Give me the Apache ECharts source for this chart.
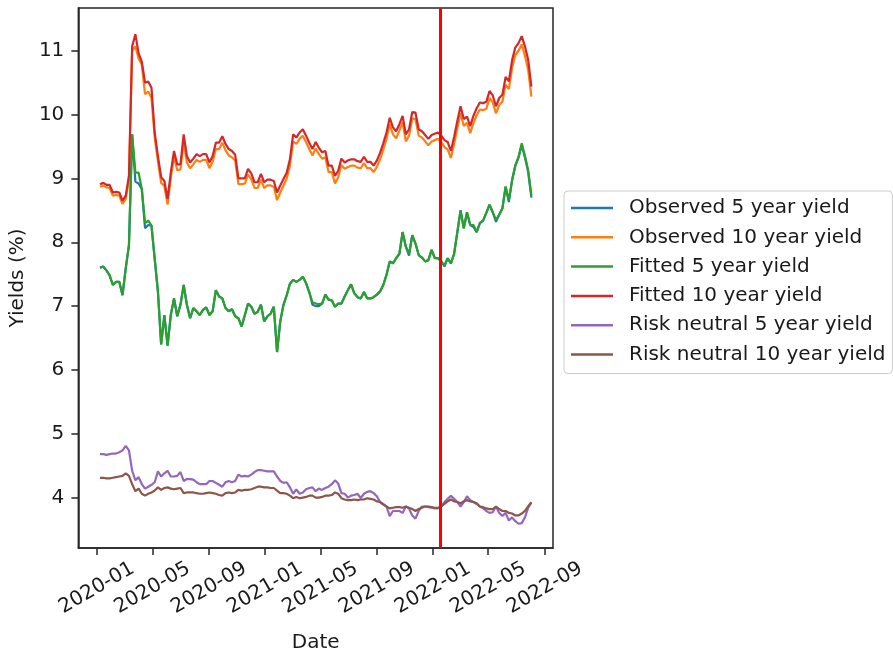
<!DOCTYPE html>
<html>
<head>
<meta charset="utf-8">
<title>Yields</title>
<script src="https://cdn.jsdelivr.net/npm/echarts@6.0.0/dist/echarts.min.js"></script>
<style>
  html, body { margin: 0; padding: 0; background: #fff; }
  #main { width: 893px; height: 658px; }
</style>
</head>
<body>
<div id="main"></div>
<script>
// weekly observations, first one on 2020-01-08
var startDate = [2020, 0, 8];
var weekCount = 135;

var seriesNames = ['Observed 5 year yield', 'Observed 10 year yield', 'Fitted 5 year yield',
  'Fitted 10 year yield', 'Risk neutral 5 year yield', 'Risk neutral 10 year yield'];

var observed5 = [
  7.60, 7.62, 7.56, 7.48, 7.33, 7.38, 7.38, 7.17, 7.59, 7.95,
  9.69, 8.95, 8.92, 8.83, 8.22, 8.27, 8.26, 7.74, 7.23, 6.40,
  6.86, 6.38, 6.86, 7.12, 6.84, 7.02, 7.33, 7.02, 6.81, 6.97,
  6.92, 6.86, 6.94, 6.98, 6.86, 6.92, 7.25, 7.15, 7.12,
  6.97, 6.92, 6.95, 6.84, 6.81, 6.68, 6.86, 7.04, 6.99, 6.88,
  6.91, 7.02, 6.76, 6.84, 6.88, 6.99, 6.28, 6.76, 7.02, 7.17,
  7.35, 7.41, 7.38, 7.41, 7.46, 7.36, 7.22, 7.02, 7.00, 7.00,
  7.04, 7.18, 7.10, 7.09, 6.99, 7.04, 7.04, 7.15, 7.25, 7.34,
  7.20, 7.14, 7.12, 7.22, 7.12, 7.12, 7.14, 7.18, 7.23, 7.33,
  7.49, 7.70, 7.67, 7.75, 7.82, 8.16, 7.93, 7.79, 8.11, 7.98,
  7.80, 7.76, 7.70, 7.72, 7.88, 7.75, 7.75, 7.70, 7.62, 7.75,
  7.67, 7.82, 8.16, 8.50, 8.22, 8.47, 8.27, 8.24, 8.16, 8.30,
  8.34, 8.46, 8.59, 8.47, 8.32, 8.43, 8.53, 8.87, 8.63, 8.97,
  9.20, 9.33, 9.52, 9.33, 9.10, 8.70
];

var observed10 = [
  8.87, 8.89, 8.86, 8.85, 8.73, 8.74, 8.73, 8.60, 8.68, 8.98,
  11.00, 11.07, 10.88, 10.78, 10.32, 10.36, 10.26, 9.64, 9.27, 8.93,
  8.88, 8.59, 9.01, 9.34, 9.13, 9.14, 9.57, 9.25, 9.16, 9.22,
  9.29, 9.26, 9.29, 9.29, 9.16, 9.26, 9.46, 9.46, 9.56,
  9.44, 9.36, 9.33, 9.28, 8.91, 8.91, 8.92, 9.06, 8.99, 8.85,
  8.85, 8.98, 8.85, 8.89, 8.89, 8.87, 8.66, 8.78, 8.89, 9.00,
  9.20, 9.58, 9.54, 9.62, 9.67, 9.57, 9.46, 9.36, 9.47, 9.38,
  9.31, 9.33, 9.10, 9.10, 8.92, 9.02, 9.21, 9.15, 9.18, 9.20,
  9.20, 9.17, 9.16, 9.24, 9.16, 9.16, 9.10, 9.18, 9.30, 9.45,
  9.62, 9.85, 9.69, 9.63, 9.75, 9.88, 9.58, 9.67, 9.94, 9.93,
  9.67, 9.64, 9.58, 9.52, 9.58, 9.60, 9.62, 9.57, 9.49, 9.45,
  9.32, 9.54, 9.79, 10.02, 9.82, 9.87, 9.71, 9.87, 9.99, 10.08,
  10.07, 10.09, 10.26, 10.19, 10.02, 10.15, 10.20, 10.47, 10.40, 10.73,
  10.93, 11.00, 11.10, 10.92, 10.70, 10.28
];

var fitted5 = [
  7.60, 7.62, 7.56, 7.48, 7.33, 7.38, 7.38, 7.17, 7.59, 7.95,
  9.69, 9.09, 9.09, 8.83, 8.30, 8.34, 8.26, 7.74, 7.23, 6.40,
  6.86, 6.38, 6.86, 7.12, 6.84, 7.02, 7.33, 7.02, 6.81, 6.97,
  6.92, 6.86, 6.94, 6.98, 6.86, 6.92, 7.25, 7.15, 7.12,
  6.97, 6.92, 6.95, 6.84, 6.81, 6.68, 6.86, 7.04, 6.99, 6.88,
  6.91, 7.02, 6.76, 6.84, 6.88, 6.99, 6.28, 6.76, 7.02, 7.17,
  7.35, 7.41, 7.38, 7.41, 7.46, 7.36, 7.22, 7.06, 7.04, 7.03,
  7.04, 7.18, 7.10, 7.09, 6.99, 7.04, 7.04, 7.15, 7.25, 7.34,
  7.20, 7.14, 7.12, 7.22, 7.12, 7.12, 7.14, 7.18, 7.23, 7.33,
  7.49, 7.70, 7.67, 7.75, 7.82, 8.16, 7.93, 7.82, 8.11, 7.98,
  7.80, 7.76, 7.70, 7.72, 7.88, 7.75, 7.75, 7.70, 7.64, 7.75,
  7.67, 7.82, 8.16, 8.50, 8.22, 8.47, 8.27, 8.27, 8.16, 8.30,
  8.34, 8.46, 8.59, 8.47, 8.35, 8.43, 8.53, 8.87, 8.66, 8.97,
  9.20, 9.33, 9.55, 9.35, 9.13, 8.74
];

var fitted10 = [
  8.91, 8.93, 8.90, 8.90, 8.78, 8.79, 8.78, 8.65, 8.73, 9.04,
  11.07, 11.26, 10.96, 10.83, 10.50, 10.52, 10.42, 9.72, 9.35, 9.02,
  8.96, 8.68, 9.09, 9.43, 9.22, 9.22, 9.69, 9.35, 9.25, 9.31,
  9.38, 9.35, 9.38, 9.38, 9.25, 9.35, 9.56, 9.56, 9.66,
  9.54, 9.46, 9.43, 9.37, 9.00, 9.00, 9.00, 9.15, 9.08, 8.94,
  8.94, 9.07, 8.94, 8.98, 8.98, 8.96, 8.78, 8.89, 8.99, 9.09,
  9.30, 9.69, 9.64, 9.72, 9.77, 9.67, 9.56, 9.46, 9.57, 9.48,
  9.41, 9.43, 9.20, 9.20, 9.04, 9.12, 9.31, 9.25, 9.28, 9.30,
  9.30, 9.27, 9.26, 9.34, 9.26, 9.26, 9.20, 9.28, 9.40, 9.55,
  9.72, 9.95, 9.80, 9.74, 9.85, 9.98, 9.69, 9.77, 10.04, 10.03,
  9.77, 9.74, 9.68, 9.62, 9.68, 9.70, 9.72, 9.67, 9.60, 9.57,
  9.43, 9.65, 9.90, 10.13, 9.93, 9.97, 9.82, 9.98, 10.10, 10.19,
  10.18, 10.20, 10.37, 10.30, 10.13, 10.26, 10.31, 10.59, 10.52, 10.85,
  11.05, 11.12, 11.23, 11.07, 10.86, 10.44
];

var neutral5 = [
  4.68, 4.68, 4.67, 4.68, 4.69, 4.69, 4.71, 4.74, 4.81, 4.74,
  4.42, 4.27, 4.32, 4.21, 4.14, 4.17, 4.20, 4.24, 4.41, 4.33,
  4.38, 4.42, 4.33, 4.33, 4.34, 4.40, 4.26, 4.29, 4.29, 4.28,
  4.24, 4.21, 4.21, 4.21, 4.26, 4.26, 4.23, 4.20, 4.17,
  4.24, 4.26, 4.24, 4.26, 4.36, 4.33, 4.34, 4.33, 4.36, 4.40,
  4.43, 4.43, 4.42, 4.41, 4.41, 4.41, 4.33, 4.26, 4.23, 4.24,
  4.16, 4.06, 4.13, 4.06, 4.08, 4.13, 4.15, 4.16, 4.10, 4.14,
  4.12, 4.15, 4.17, 4.21, 4.27, 4.22, 4.07, 4.06, 4.00, 4.03,
  4.04, 4.06, 3.99, 4.06, 4.09, 4.10, 4.07, 4.02, 3.93, 3.90,
  3.86, 3.71, 3.79, 3.79, 3.79, 3.76, 3.86, 3.83, 3.72, 3.67,
  3.79, 3.86, 3.86, 3.85, 3.84, 3.83, 3.83, 3.86, 3.93, 3.98,
  4.03, 3.98, 3.93, 3.86, 3.93, 4.02, 3.96, 3.93, 3.90, 3.86,
  3.83, 3.79, 3.76, 3.77, 3.86, 3.76, 3.71, 3.76, 3.64, 3.69,
  3.63, 3.59, 3.60, 3.69, 3.84, 3.92
];

var neutral10 = [
  4.31, 4.31, 4.30, 4.30, 4.31, 4.32, 4.33, 4.34, 4.38, 4.34,
  4.21, 4.10, 4.14, 4.06, 4.03, 4.06, 4.08, 4.11, 4.16, 4.12,
  4.15, 4.16, 4.14, 4.13, 4.14, 4.15, 4.07, 4.08, 4.08, 4.08,
  4.07, 4.06, 4.06, 4.07, 4.08, 4.07, 4.06, 4.04, 4.03,
  4.07, 4.08, 4.07, 4.08, 4.12, 4.11, 4.12, 4.12, 4.13, 4.15,
  4.17, 4.17, 4.16, 4.16, 4.15, 4.15, 4.11, 4.07, 4.07, 4.06,
  4.03, 3.99, 4.01, 3.99, 4.00, 4.01, 4.03, 4.03, 4.00, 4.00,
  4.01, 4.03, 4.03, 4.04, 4.08, 4.06, 3.99, 3.97, 3.96, 3.96,
  3.97, 3.96, 3.97, 3.97, 3.99, 3.98, 3.97, 3.94, 3.93, 3.89,
  3.86, 3.83, 3.84, 3.85, 3.85, 3.84, 3.86, 3.84, 3.82, 3.79,
  3.82, 3.84, 3.86, 3.86, 3.85, 3.84, 3.84, 3.86, 3.90, 3.94,
  3.97, 3.94, 3.93, 3.91, 3.94, 3.96, 3.94, 3.93, 3.91, 3.86,
  3.85, 3.83, 3.82, 3.82, 3.86, 3.82, 3.79, 3.79, 3.76, 3.75,
  3.72, 3.72, 3.75, 3.79, 3.86, 3.93
];

// vertical marker
var cutDate = [2022, 0, 16];

// tick labels
var xTickLabels = ['2020-01', '2020-05', '2020-09', '2021-01', '2021-05',
  '2021-09', '2022-01', '2022-05', '2022-09'];
var yTickLabels = [4, 5, 6, 7, 8, 9, 10, 11];

var colors = ['#1f77b4', '#ff7f0e', '#2ca02c', '#d62728', '#9467bd', '#8c564b'];
var font = 'DejaVu Sans';
var ink = '#1a1a1a';

function pad(n) {
  return n < 10 ? '0' + n : '' + n;
}

// weekly dates as timestamps
var dates = [];
for (var i = 0; i < weekCount; i++) {
  dates.push(new Date(startDate[0], startDate[1], startDate[2] + 7 * i).getTime());
}

var xTickValues = xTickLabels.map(function (s) {
  var p = s.split('-');
  return new Date(+p[0], +p[1] - 1, 1).getTime();
});

function pairs(values) {
  return values.map(function (v, k) {
    return [dates[k], v];
  });
}

var allValues = [observed5, observed10, fitted5, fitted10, neutral5, neutral10];

var series = allValues.map(function (vals, k) {
  return {
    name: seriesNames[k],
    type: 'line',
    data: pairs(vals),
    symbol: 'none',
    showSymbol: false,
    color: colors[k],
    lineStyle: { width: 2.2, color: colors[k] },
    emphasis: { disabled: true }
  };
});

series[5].markLine = {
  silent: true,
  symbol: 'none',
  label: { show: false },
  lineStyle: { color: '#ff0000', width: 3, type: 'solid' },
  data: [{ xAxis: new Date(cutDate[0], cutDate[1], cutDate[2]).getTime() }]
};

var chart = echarts.init(document.getElementById('main'));

var option = {
  animation: false,
  backgroundColor: '#ffffff',
  grid: {
    left: 78,
    top: 8,
    width: 475,
    height: 543,
    show: true,
    borderColor: '#262626',
    borderWidth: 1.5,
    backgroundColor: 'transparent'
  },
  legend: {
    orient: 'vertical',
    left: 564,
    top: 191,
    data: seriesNames,
    icon: 'rect',
    itemWidth: 42,
    itemHeight: 2.5,
    itemGap: 9.3,
    padding: [7, 7, 9, 7],
    backgroundColor: '#ffffff',
    borderColor: '#cccccc',
    borderWidth: 1,
    borderRadius: 4,
    selectedMode: false,
    textStyle: { fontFamily: font, fontSize: 20, color: ink, lineHeight: 20, padding: [0, 0, 0, 11] }
  },
  xAxis: {
    type: 'value',
    min: new Date(2019, 10, 22).getTime(),
    max: new Date(2022, 8, 19).getTime(),
    name: 'Date',
    nameLocation: 'middle',
    nameGap: 85,
    nameTextStyle: { fontFamily: font, fontSize: 20, color: ink },
    axisLine: { show: true, lineStyle: { color: '#262626', width: 1.5 } },
    axisTick: { show: true, customValues: xTickValues, length: 7, lineStyle: { color: '#262626', width: 1.5 } },
    axisLabel: {
      customValues: xTickValues,
      rotate: 30,
      align: 'center',
      verticalAlign: 'middle',
      margin: 40,
      fontFamily: font,
      fontSize: 20,
      color: ink,
      formatter: function (v) {
        var d = new Date(v);
        return d.getFullYear() + '-' + pad(d.getMonth() + 1);
      }
    },
    splitLine: { show: false }
  },
  yAxis: {
    type: 'value',
    min: 3.21,
    max: 11.67,
    name: 'Yields (%)',
    nameLocation: 'middle',
    nameGap: 50,
    nameRotate: 90,
    nameTextStyle: { fontFamily: font, fontSize: 20, color: ink },
    axisLine: { show: true, lineStyle: { color: '#262626', width: 1.5 } },
    axisTick: { show: true, customValues: yTickLabels, length: 7, lineStyle: { color: '#262626', width: 1.5 } },
    axisLabel: {
      customValues: yTickLabels,
      margin: 14,
      fontFamily: font,
      fontSize: 20,
      color: ink
    },
    splitLine: { show: false }
  },
  series: series
};

chart.setOption(option);
</script>
</body>
</html>
